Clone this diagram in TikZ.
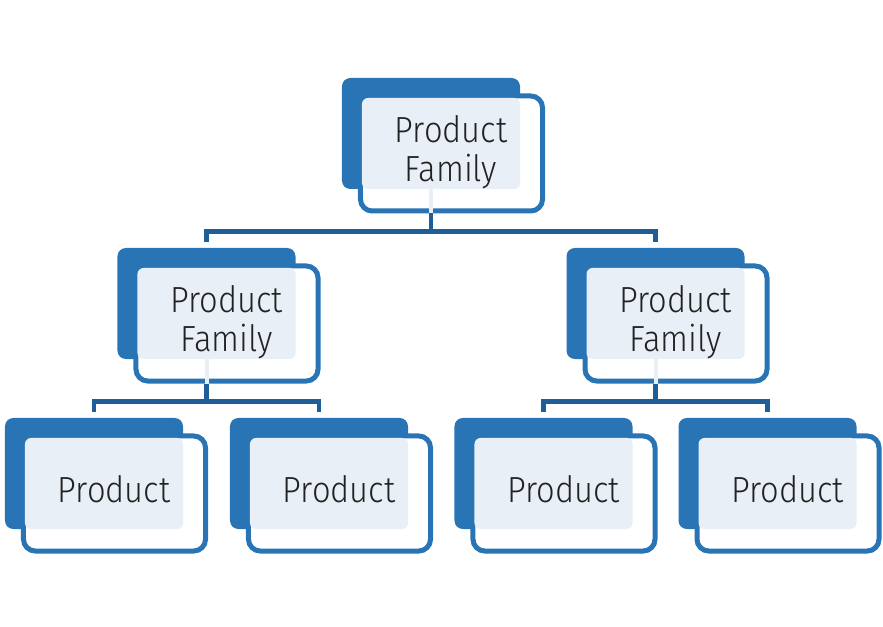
\documentclass[tikz,border=0pt]{standalone}
\usepackage{fontspec}
\setmainfont{Fira Sans Light}[FakeStretch=0.9]
\usepackage{xcolor}
\usepackage{tikz}
\usetikzlibrary{positioning, calc}

\definecolor{famblue}{HTML}{2874B5}
\definecolor{linkblue}{HTML}{1F5F98}
\definecolor{paleblue}{HTML}{E9EFF6}
\definecolor{inktext}{HTML}{222222}

\begin{document}
\begin{tikzpicture}[
    x=0.03cm, y=-0.03cm,
    back/.style={rectangle, rounded corners=0.25cm, fill=famblue, minimum width=5.34cm, minimum height=3.33cm, inner sep=0pt},
    frame/.style={rectangle, rounded corners=0.35cm, draw=famblue, line width=0.15cm, fill=white, minimum width=5.46cm, minimum height=3.45cm, inner sep=0pt},
    pale/.style={rectangle, rounded corners=0.18cm, fill=paleblue, minimum width=4.74cm, minimum height=2.73cm, inner sep=0pt},
    txt/.style={font=\fontsize{31}{33}\selectfont, text=inktext, align=center, inner sep=0pt},
    link/.style={draw=linkblue, line width=0.13cm},
    stub/.style={draw=paleblue, line width=0.12cm},
]
    \useasboundingbox (0,0) rectangle (883,627);
    % family on top
    \node[back] (b1) at (431,133.5) {};
    \node[frame] (f1) at ([shift={(20.5,20)}]b1.center) {};
    \node[pale] (p1) at ([shift={(10,10)}]b1.center) {};
    \node[txt] (t1) at ([shift={(10,9)}]p1.center) {Product\\Family};
    % families below
    \node[back] (b2) at (206.5,303.5) {};
    \node[frame] (f2) at ([shift={(20.5,20)}]b2.center) {};
    \node[pale] (p2) at ([shift={(10,10)}]b2.center) {};
    \node[txt] (t2) at ([shift={(10,9)}]p2.center) {Product\\Family};
    \node[back] (b3) at (655.5,303.5) {};
    \node[frame] (f3) at ([shift={(20.5,20)}]b3.center) {};
    \node[pale] (p3) at ([shift={(10,10)}]b3.center) {};
    \node[txt] (t3) at ([shift={(10,9)}]p3.center) {Product\\Family};
    % products
    \node[back] (b4) at (94,473.5) {};
    \node[frame] (f4) at ([shift={(20.5,20)}]b4.center) {};
    \node[pale] (p4) at ([shift={(10,10)}]b4.center) {};
    \node[txt] (t4) at ([shift={(10,6)}]p4.center) {Product};
    \node[back] (b5) at (319,473.5) {};
    \node[frame] (f5) at ([shift={(20.5,20)}]b5.center) {};
    \node[pale] (p5) at ([shift={(10,10)}]b5.center) {};
    \node[txt] (t5) at ([shift={(10,6)}]p5.center) {Product};
    \node[back] (b6) at (543.5,473.5) {};
    \node[frame] (f6) at ([shift={(20.5,20)}]b6.center) {};
    \node[pale] (p6) at ([shift={(10,10)}]b6.center) {};
    \node[txt] (t6) at ([shift={(10,6)}]p6.center) {Product};
    \node[back] (b7) at (767.5,473.5) {};
    \node[frame] (f7) at ([shift={(20.5,20)}]b7.center) {};
    \node[pale] (p7) at ([shift={(10,10)}]b7.center) {};
    \node[txt] (t7) at ([shift={(10,6)}]p7.center) {Product};
    % connectors
    \coordinate (h1) at ($(b1 |- f1.south)+(0,18)$);
    \coordinate (h2) at ($(b2 |- f2.south)+(0,18)$);
    \coordinate (h3) at ($(b3 |- f3.south)+(0,18)$);
    \draw[stub] (b1 |- p1.south) -- (b1 |- f1.south);
    \draw[stub] (b2 |- p2.south) -- (b2 |- f2.south);
    \draw[stub] (b3 |- p3.south) -- (b3 |- f3.south);
    \draw[link] (b1 |- f1.south) -- (h1);
    \draw[link] (b2 |- f2.south) -- (h2);
    \draw[link] (b3 |- f3.south) -- (h3);
    \draw[link] ([yshift=0.18cm]b2.north) |- (h1) -| ([yshift=0.18cm]b3.north);
    \draw[link] ([yshift=0.18cm]b4.north) |- (h2) -| ([yshift=0.18cm]b5.north);
    \draw[link] ([yshift=0.18cm]b6.north) |- (h3) -| ([yshift=0.18cm]b7.north);
\end{tikzpicture}
\end{document}
